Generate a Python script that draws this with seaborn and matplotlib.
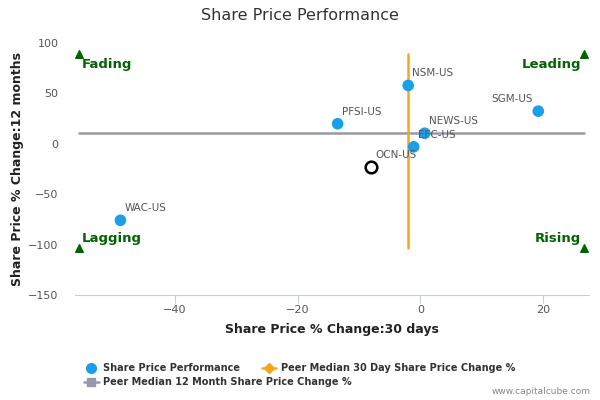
import numpy as np
import pandas as pd
import matplotlib
matplotlib.use("Agg")
import matplotlib.pyplot as plt
import seaborn as sns
from matplotlib.lines import Line2D

tickers = ["WAC-US", "PFSI-US", "NSM-US", "NEWS-US", "EFC-US", "SGM-US"]
chg_30d = [-48.9, -13.5, -2.0, 0.7, -1.1, 19.2]
chg_12m = [-75.9, 19.9, 57.9, 10.5, -3.0, 32.4]

focus_name = "OCN-US"
focus_30d = -8.0
focus_12m = -22.8

median_30d = -2.0
median_12m = 10.5

quad_x = [-55.6, 26.6]
quad_y = [-103.0, 89.5]
quad_names = ["Fading", "Leading", "Lagging", "Rising"]

data = pd.DataFrame({"ticker": tickers, "x": chg_30d, "y": chg_12m})

sns.set_style("white")
plt.rcParams["font.family"] = ["DejaVu Sans"]

blue = "#1aa0ea"
orange = "#f8a51c"
grey = "#9899a6"
green = "#006400"

fig = plt.figure(figsize=(6, 4), dpi=100)
ax = fig.add_axes([0.125, 0.2625, 0.857, 0.63])

# median lines
ax.plot(quad_x, [median_12m, median_12m], color=grey, lw=1.8, zorder=1)
ax.plot([median_30d, median_30d], quad_y, color=orange, lw=1.8, zorder=1)

sns.scatterplot(data=data, x="x", y="y", ax=ax, color=blue, s=70,
                edgecolor="none", zorder=3, legend=False)
ax.scatter([focus_30d], [focus_12m], s=70, facecolor="white",
           edgecolor="black", linewidth=1.8, zorder=4)

for t, x, y in zip(tickers, chg_30d, chg_12m):
    if t == "SGM-US":
        ax.annotate(t, (x, y), xytext=(-4, 5), textcoords="offset points",
                    ha="right", va="bottom", fontsize=7.5, color="#555555")
    else:
        ax.annotate(t, (x, y), xytext=(3, 5), textcoords="offset points",
                    ha="left", va="bottom", fontsize=7.5, color="#555555")
ax.annotate(focus_name, (focus_30d, focus_12m), xytext=(3, 5),
            textcoords="offset points", ha="left", va="bottom",
            fontsize=7.5, color="#555555")

# quadrant markers
corners = [(quad_x[0], quad_y[1]), (quad_x[1], quad_y[1]),
           (quad_x[0], quad_y[0]), (quad_x[1], quad_y[0])]
for name, (cx, cy) in zip(quad_names, corners):
    ax.scatter([cx], [cy], marker="^", s=30, color=green, zorder=5)
    left = cx < 0
    top = cy > 0
    ax.annotate(name, (cx, cy),
                xytext=(2 if left else -2, -3 if top else 2),
                textcoords="offset points",
                ha="left" if left else "right",
                va="top" if top else "bottom",
                fontsize=9.5, fontweight="bold", color=green)

ax.set_xlim(-56.3, 27.5)
ax.set_ylim(-150, 100)
ax.set_xticks([-40, -20, 0, 20])
ax.set_yticks([-150, -100, -50, 0, 50, 100])
for s in ["top", "right", "left"]:
    ax.spines[s].set_visible(False)
ax.spines["bottom"].set_color("#c0cfe0")
ax.tick_params(axis="x", length=6, color="#c0cfe0", labelsize=8,
               labelcolor="#555555", bottom=True, pad=1)
ax.tick_params(axis="y", length=0, labelsize=8, labelcolor="#555555", pad=12)
ax.set_xlabel("Share Price % Change:30 days", fontsize=9,
              fontweight="bold", color="#222222", labelpad=6)
ax.set_ylabel("Share Price % Change:12 months", fontsize=9,
              fontweight="bold", color="#222222")
ax.yaxis.set_label_coords(-0.1, 0.5)

fig.text(0.5, 0.96, "Share Price Performance", ha="center", va="center",
         fontsize=11.5, color="#333333")

h_perf = Line2D([], [], marker="o", color=blue, linestyle="none", markersize=7)
h_12m = Line2D([], [], marker="s", color=grey, lw=1.8, markersize=6)
h_30d = Line2D([], [], marker="D", color=orange, lw=1.8, markersize=5)

leg1 = fig.legend([h_perf, h_30d],
                  ["Share Price Performance",
                   "Peer Median 30 Day Share Price Change %"],
                  loc="center left", bbox_to_anchor=(0.14, 0.08),
                  ncol=2, frameon=False, fontsize=7, handlelength=1.5,
                  columnspacing=2.2, handletextpad=0.5,
                  borderaxespad=0, borderpad=0)
leg2 = fig.legend([h_12m], ["Peer Median 12 Month Share Price Change %"],
                  loc="center left", bbox_to_anchor=(0.14, 0.045),
                  frameon=False, fontsize=7, handlelength=1.5,
                  handletextpad=0.5, borderaxespad=0, borderpad=0)
for leg in (leg1, leg2):
    for txt in leg.get_texts():
        txt.set_fontweight("bold")
        txt.set_color("#333333")

fig.text(0.985, 0.01, "www.capitalcube.com", ha="right", va="bottom",
         fontsize=6.5, color="#888888")

fig.savefig("out.png", dpi=100)
